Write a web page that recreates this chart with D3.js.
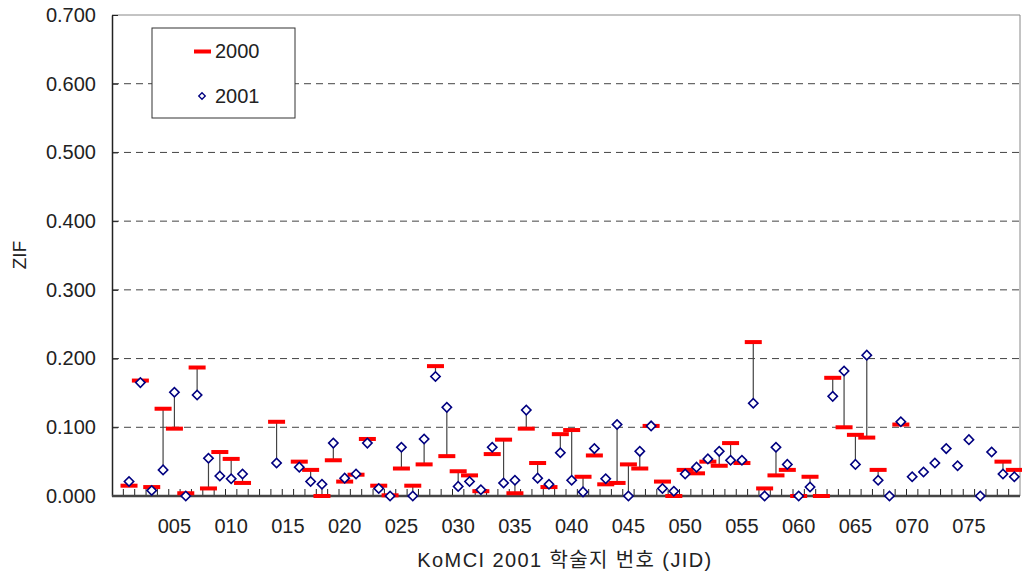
<!DOCTYPE html>
<html><head><meta charset="utf-8">
<script src="https://cdn.jsdelivr.net/npm/d3@7"></script>
<style>
body{margin:0;background:#fff;}
text{font-family:"Liberation Sans","Noto Sans CJK KR",Arial,sans-serif;fill:#222;}
</style></head><body>
<svg id="c" width="1022" height="572"></svg>
<script>
// categories 000..079 (JID)
const categories = d3.range(0, 80).map(i => String(i).padStart(3, "0"));
// ZIF 2000 (red bars); null = no value
const zif2000 = [null,
 0.015,0.168,0.013,0.127,0.098,0.004,0.187,0.011,0.064,0.054,
 0.019,null,null,0.108,null,0.050,0.038,0.000,0.052,0.021,
 0.031,0.083,0.015,0.001,0.040,0.015,0.046,0.189,0.058,0.036,
 0.030,0.007,0.061,0.082,0.004,0.098,0.048,0.013,0.090,0.096,
 0.028,0.059,0.017,0.019,0.046,0.040,0.102,0.021,0.000,0.038,
 0.033,0.050,0.044,0.077,0.048,0.224,0.011,0.030,0.038,0.000,
 0.028,0.000,0.172,0.100,0.089,0.085,0.038,null,0.104,null,
 null,null,null,null,null,null,null,0.050,0.038];
// ZIF 2001 (diamonds)
const zif2001 = [null,
 0.021,0.165,0.008,0.038,0.151,0.000,0.147,0.055,0.029,0.025,
 0.032,null,null,0.048,null,0.042,0.021,0.017,0.077,0.026,
 0.032,0.077,0.011,0.000,0.071,0.000,0.083,0.174,0.129,0.014,
 0.021,0.009,0.071,0.019,0.023,0.125,0.026,0.017,0.063,0.023,
 0.006,0.069,0.025,0.104,0.000,0.065,0.102,0.011,0.007,0.032,
 0.042,0.054,0.065,0.052,0.052,0.135,0.000,0.071,0.046,0.000,
 0.013,null,0.145,0.182,0.046,0.205,0.023,0.000,0.108,0.028,
 0.035,0.048,0.069,0.044,0.082,0.000,0.064,0.032,0.028];
const xTickLabels = ["005","010","015","020","025","030","035","040","045","050","055","060","065","070","075"];
const yTicks = [0,0.1,0.2,0.3,0.4,0.5,0.6,0.7];

const svg = d3.select("#c");
const L = 112, R = 1020, T = 15, B = 496;
const x = d3.scaleBand().domain(categories).range([L, R]).padding(0);
const y = d3.scaleLinear().domain([0, 0.7]).range([B, T]);
const cx = i => x(categories[i]) + x.bandwidth() / 2;

// gridlines
svg.append("g").selectAll("line").data(yTicks.filter(v => v > 0 && v < 0.7)).join("line")
  .attr("x1", L).attr("x2", R).attr("y1", d => y(d)).attr("y2", d => y(d))
  .attr("stroke", "#444").attr("stroke-width", 1).attr("stroke-dasharray", "7,5");

// plot border (top/right)
svg.append("path").attr("d", `M${L},${T}H${R}V${B}`).attr("fill", "none").attr("stroke", "#888").attr("stroke-width", 1);

// y axis
const yAxis = d3.axisLeft(y).tickValues(yTicks).tickFormat(d3.format(".3f")).tickSizeInner(-6).tickSizeOuter(0).tickPadding(16);
const gy = svg.append("g").attr("transform", `translate(${L},0)`).call(yAxis);
gy.select(".domain").attr("stroke", "#222").attr("stroke-width", 1.5);
gy.selectAll(".tick line").attr("stroke", "#222");
gy.selectAll("text").style("font-size", "20px").attr("fill", "#222");

// x axis labels
const xAxis = d3.axisBottom(x).tickValues(xTickLabels).tickSize(0).tickPadding(23);
const gx = svg.append("g").attr("transform", `translate(0,${B})`).call(xAxis);
gx.select(".domain").remove();
gx.selectAll("text").style("font-size", "20px").attr("fill", "#222");

// x tick marks at category boundaries (inside)
svg.append("g").selectAll("line").data(categories.slice(1)).join("line")
  .attr("x1", d => x(d)).attr("x2", d => x(d)).attr("y1", B).attr("y2", B - 7)
  .attr("stroke", "#222").attr("stroke-width", 1);
svg.append("line").attr("x1", L).attr("x2", R).attr("y1", B).attr("y2", B).attr("stroke", "#444").attr("stroke-width", 2.5);

// connectors
const idx = d3.range(categories.length);
svg.append("g").selectAll("line").data(idx.filter(i => zif2000[i] != null && zif2001[i] != null)).join("line")
  .attr("x1", cx).attr("x2", cx).attr("y1", i => y(zif2000[i])).attr("y2", i => y(zif2001[i]))
  .attr("stroke", "#444").attr("stroke-width", 1.2);

// 2000 red bars
svg.append("g").selectAll("rect").data(idx.filter(i => zif2000[i] != null)).join("rect")
  .attr("x", i => cx(i) - 8.5).attr("y", i => y(zif2000[i]) - 2).attr("width", 17).attr("height", 4)
  .attr("fill", "#ff0000");

// 2001 diamonds
svg.append("g").selectAll("path").data(idx.filter(i => zif2001[i] != null)).join("path")
  .attr("transform", i => `translate(${cx(i)},${y(zif2001[i])}) rotate(45)`)
  .attr("d", "M-3.3,-3.3H3.3V3.3H-3.3Z")
  .attr("fill", "#fff").attr("stroke", "#000080").attr("stroke-width", 1.6);

// legend
const lg = svg.append("g");
lg.append("rect").attr("x", 152).attr("y", 28).attr("width", 143).attr("height", 90)
  .attr("fill", "#fff").attr("stroke", "#333").attr("stroke-width", 1);
lg.append("rect").attr("x", 194).attr("y", 49.5).attr("width", 17).attr("height", 4).attr("fill", "#ff0000");
lg.append("text").attr("x", 215).attr("y", 58).text("2000").style("font-size", "20px");
lg.append("path").attr("transform", "translate(202,96) rotate(45)").attr("d", "M-2.3,-2.3H2.3V2.3H-2.3Z")
  .attr("fill", "#fff").attr("stroke", "#000080").attr("stroke-width", 1.3);
lg.append("text").attr("x", 215).attr("y", 103).text("2001").style("font-size", "20px");

// axis titles
svg.append("text").attr("x", 565).attr("y", 567).attr("text-anchor", "middle").style("font-size", "20px")
  .style("letter-spacing", "1.4px")
  .text("KoMCI 2001 학술지 번호 (JID)");
svg.append("text").attr("transform", "translate(26,255) rotate(-90)").attr("text-anchor", "middle").style("font-size", "19px")
  .text("ZIF");
</script></body></html>
